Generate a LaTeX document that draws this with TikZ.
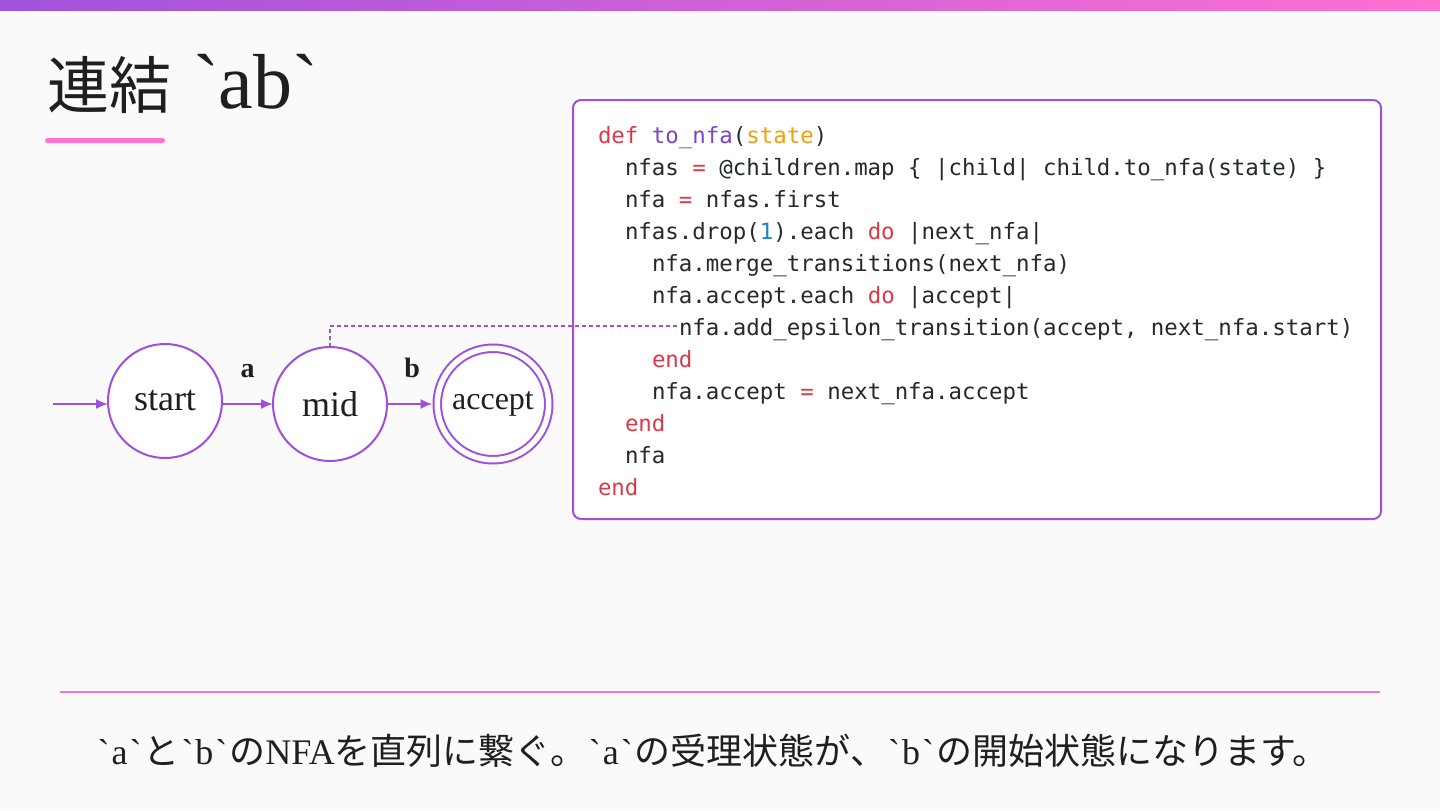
\documentclass[tikz,border=0pt]{standalone}
\usepackage{fontspec}
\setmainfont{Liberation Serif}[Ligatures=TeXOff]
\setmonofont{DejaVu Sans Mono}
\newfontfamily\cjk{Noto Sans CJK JP}
\usetikzlibrary{arrows.meta}
\definecolor{bg}{HTML}{FAFAFA}
\definecolor{barL}{HTML}{A052DC}
\definecolor{barR}{HTML}{FF70D2}
\definecolor{pinkbar}{HTML}{FF72D8}
\definecolor{rulepink}{HTML}{F07AD8}
\definecolor{stroke}{HTML}{9D50DD}
\definecolor{ink}{HTML}{1F1F1F}
\definecolor{codeink}{HTML}{24292E}
\definecolor{ckwc}{HTML}{D73A49}
\definecolor{cfnc}{HTML}{7B45C9}
\definecolor{cargc}{HTML}{F29E0D}
\definecolor{cnumc}{HTML}{1F7FD0}
\newcommand\ckw[1]{\textcolor{ckwc}{#1}}
\newcommand\cfn[1]{\textcolor{cfnc}{#1}}
\newcommand\carg[1]{\textcolor{cargc}{#1}}
\newcommand\cnum[1]{\textcolor{cnumc}{#1}}
\newcommand\jp[1]{{\cjk #1}}
\newcommand\bq{\kern2bp`\kern2bp}
\tikzset{
  every node/.style={inner sep=0pt, outer sep=0pt},
  statenode/.style={circle, draw=stroke, line width=2bp, fill=white, minimum size=114bp,
    text=ink, font=\fontsize{36bp}{36bp}\selectfont},
  acceptnode/.style={statenode, double=white, double distance=5.5bp, minimum size=111.5bp,
    font=\fontsize{32bp}{32bp}\selectfont},
  trans/.style={draw=stroke, line width=2bp, -{Latex[length=12bp,width=10bp]}},
  translabel/.style={text=ink, font=\fontsize{28bp}{28bp}\selectfont\bfseries},
  linkline/.style={draw=stroke, line width=2bp, dash pattern=on 4bp off 3bp},
  codebox/.style={draw=stroke, line width=2bp, fill=white, rounded corners=8bp},
  codeline/.style={anchor=base west, text=codeink, font=\fontsize{22.4bp}{32bp}\ttfamily},
}
\begin{document}
\begin{tikzpicture}[x=1bp, y=-1bp]
\useasboundingbox (0,0) rectangle (1440,810);
\fill[bg] (0,0) rectangle (1440,810);
\shade[left color=barL, right color=barR] (0,0) rectangle (1440,11);

% title
\node[anchor=base west, text=ink] (title) at (47,108)
  {\jp{\fontsize{62bp}{62bp}\selectfont 連結}\hspace{22bp}{\fontsize{78bp}{78bp}\selectfont `ab`}};
\fill[pinkbar, rounded corners=2.5bp] (45,138) rectangle (165,143);

% automaton
\node[statenode] (start) at (165,401) {start};
\node[statenode] (mid) at (330,404) {mid};
\node[acceptnode] (accept) at (493,404) {accept};
\coordinate (init) at (53,404);
\draw[trans] (init) -- (start.west |- init);
\draw[trans] (start.east |- mid.west) -- node[translabel, above=26bp] (la) {a} (mid.west);
\draw[trans, shorten >=4.75bp] (mid.east) -- node[translabel, above=26bp] (lb) {b} (accept.west);

% code box
\node[codebox, anchor=north west, minimum width=808bp, minimum height=419bp] (box) at (573,100) {};
\node[codeline] (c1) at (598,143) {\ckw{def} \cfn{to\_nfa}(\carg{state})};
\node[codeline] (c2) at (625,175) {nfas \ckw{=} @children.map \{ |child| child.to\_nfa(state) \}};
\node[codeline] (c3) at (625,207) {nfa \ckw{=} nfas.first};
\node[codeline] (c4) at (625,239) {nfas.drop(\cnum{1}).each \ckw{do} |next\_nfa|};
\node[codeline] (c5) at (652,271) {nfa.merge\_transitions(next\_nfa)};
\node[codeline] (c6) at (652,303) {nfa.accept.each \ckw{do} |accept|};
\node[codeline] (c7) at (679,335) {nfa.add\_epsilon\_transition(accept, next\_nfa.start)};
\node[codeline] (c8) at (652,367) {\ckw{end}};
\node[codeline] (c9) at (652,399) {nfa.accept \ckw{=} next\_nfa.accept};
\node[codeline] (c10) at (625,431) {\ckw{end}};
\node[codeline] (c11) at (625,463) {nfa};
\node[codeline] (c12) at (598,495) {\ckw{end}};

% dashed link
\coordinate (dashend) at (677,326);
\draw[linkline] (mid.north) -- (mid.north |- dashend) -- (dashend);

% bottom
\draw[rulepink, line width=1.5bp] (60,692) -- (1380,692);
\node[anchor=base, text=ink, font=\fontsize{36bp}{36bp}\selectfont] (caption) at (712,764)
  {\bq a\bq\jp{と}\bq b\bq\jp{の}NFA\jp{を直列に繋ぐ。}\bq a\bq\jp{の受理状態が、}\bq b\bq\jp{の開始状態になります。}};
\end{tikzpicture}
\end{document}
